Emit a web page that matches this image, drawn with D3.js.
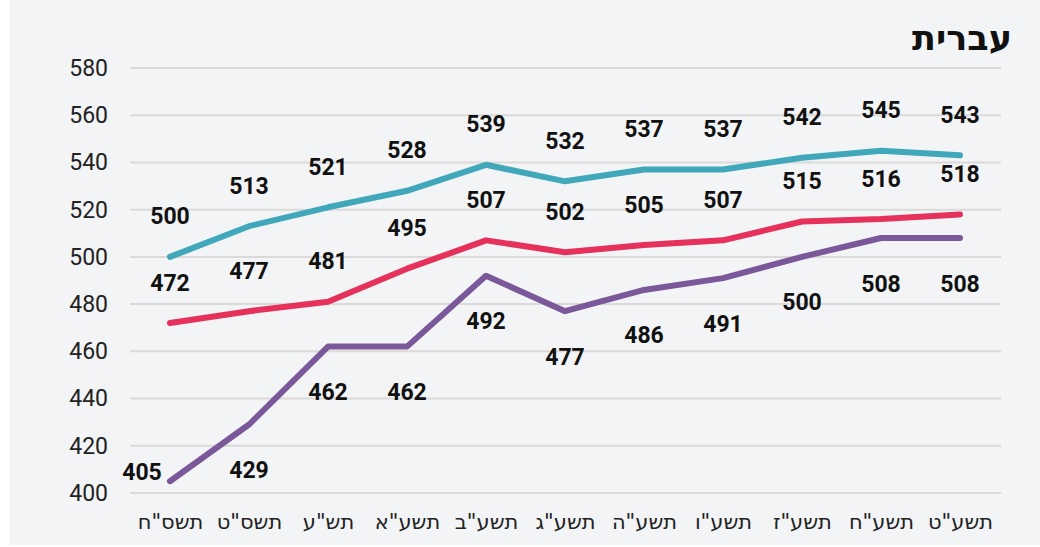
<!DOCTYPE html>
<html>
<head>
<meta charset="utf-8">
<script src="https://cdn.jsdelivr.net/npm/d3@7"></script>
<style>
  body { margin: 0; background: #ffffff; }
  svg { display: block; }
  .tick-label { font-family: Roboto, "DejaVu Sans", sans-serif; font-size: 23px; fill: #222; }
  .x-label { font-family: "DejaVu Sans", sans-serif; font-size: 21px; fill: #222; }
  .val { font-family: Roboto, "DejaVu Sans", sans-serif; font-size: 23px; font-weight: bold; fill: #111; }
  .title { font-family: "DejaVu Sans", sans-serif; font-size: 35px; font-weight: bold; fill: #111; }
</style>
</head>
<body>
<script>
// data
var years = ['תשס"ח', 'תשס"ט', 'תש"ע', 'תשע"א', 'תשע"ב', 'תשע"ג', 'תשע"ה', 'תשע"ו', 'תשע"ז', 'תשע"ח', 'תשע"ט'];
var seriesTop = [500, 513, 521, 528, 539, 532, 537, 537, 542, 545, 543];
var seriesMid = [472, 477, 481, 495, 507, 502, 505, 507, 515, 516, 518];
var seriesLow = [405, 429, 462, 462, 492, 477, 486, 491, 500, 508, 508];
var yTicks = [400, 420, 440, 460, 480, 500, 520, 540, 560, 580];
var title = 'עברית';

var width = 1040, height = 547;

var svg = d3.select('body').append('svg')
  .attr('width', width)
  .attr('height', height);

svg.append('rect')
  .attr('x', 10).attr('y', 0)
  .attr('width', width - 10).attr('height', 545)
  .attr('fill', '#f3f4f6');

var x = d3.scalePoint()
  .domain(years)
  .range([170, 960]);

var y = d3.scaleLinear()
  .domain([400, 580])
  .range([493, 68]);

// gridlines
svg.append('g').selectAll('line').data(yTicks).enter().append('line')
  .attr('x1', 130).attr('x2', 1001)
  .attr('y1', function (d) { return y(d); })
  .attr('y2', function (d) { return y(d); })
  .attr('stroke', '#dbdad8')
  .attr('stroke-width', 2);

// y axis
var yAxis = d3.axisLeft(y).tickValues(yTicks).tickSize(0).tickPadding(0);
var yAxisEl = svg.append('g')
  .attr('transform', 'translate(108,0)')
  .call(yAxis);
yAxisEl.select('.domain').remove();
yAxisEl.selectAll('text').attr('class', 'tick-label').attr('font-family', null).attr('font-size', null).attr('fill', null);

// x axis
var xAxis = d3.axisBottom(x).tickSize(0).tickPadding(0);
var xAxisEl = svg.append('g')
  .attr('transform', 'translate(0,522)')
  .call(xAxis);
xAxisEl.select('.domain').remove();
xAxisEl.selectAll('text').attr('class', 'x-label').attr('font-family', null).attr('font-size', null).attr('fill', null)
  .attr('dy', null).attr('dominant-baseline', 'central').attr('text-anchor', 'middle');

// lines
var series = [
  { values: seriesLow, color: '#7a5899', dy: 46 },
  { values: seriesMid, color: '#e5315b', dy: -40 },
  { values: seriesTop, color: '#41a8bb', dy: -40 }
];

var line = d3.line()
  .x(function (d, i) { return x(years[i]); })
  .y(function (d) { return y(d); });

svg.append('g').selectAll('path').data(series).enter().append('path')
  .attr('d', function (s) { return line(s.values); })
  .attr('fill', 'none')
  .attr('stroke', function (s) { return s.color; })
  .attr('stroke-width', 6)
  .attr('stroke-linecap', 'round')
  .attr('stroke-linejoin', 'round');

// value labels
series.forEach(function (s, si) {
  svg.append('g').selectAll('text').data(s.values).enter().append('text')
    .attr('class', 'val')
    .attr('text-anchor', 'middle')
    .attr('dominant-baseline', 'central')
    .attr('x', function (d, i) {
      // first low value would hit the axis, so it sits to the left
      if (si === 0 && i === 0) return x(years[i]) - 28;
      return x(years[i]);
    })
    .attr('y', function (d, i) {
      if (si === 0 && i === 0) return y(d) - 9;
      return y(d) + s.dy;
    })
    .text(function (d) { return d; });
});

// title
svg.append('text')
  .attr('class', 'title')
  .attr('x', 1012).attr('y', 38)
  .attr('text-anchor', 'end')
  .attr('dominant-baseline', 'central')
  .text(title);
</script>
</body>
</html>
